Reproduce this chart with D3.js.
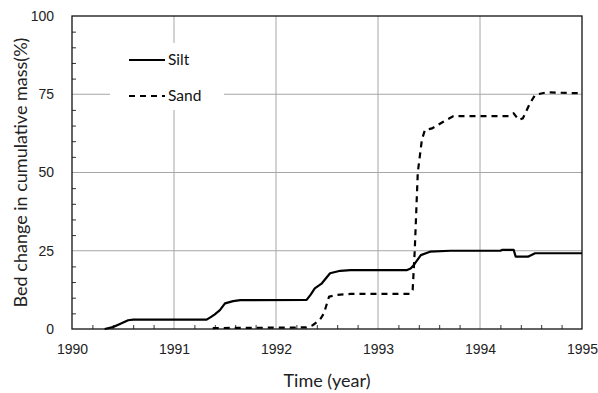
<!DOCTYPE html>
<html>
<head>
    <meta charset="utf-8">
    <style>
        body {
            margin: 0;
            background: #fff;
        }

        svg {
            font-family: Lato, "Open Sans", sans-serif;
        }

        .grid line {
            stroke: #a6a6a6;
            stroke-width: 1;
        }

        .tick text {
            font-size: 14px;
            fill: #222;
        }

        .axis-label {
            font-size: 18px;
            fill: #222;
        }

        .legend text {
            font-size: 15.5px;
            fill: #111;
        }
    </style>
</head>

<body>
    <svg width="598" height="393"></svg>
</body>

<script src="https://d3js.org/d3.v7.min.js"></script>

<script>
    let siltYear = [1990.32, 1990.40, 1990.47, 1990.55, 1990.60, 1991.32, 1991.36, 1991.40, 1991.45,
        1991.50, 1991.58, 1991.65, 1992.30, 1992.34, 1992.38, 1992.45, 1992.53, 1992.63, 1992.73,
        1993.28, 1993.32, 1993.35, 1993.42, 1993.51, 1993.71, 1994.20, 1994.22, 1994.33, 1994.35,
        1994.47, 1994.54, 1995.00]
    let siltVal = [0, 0.6, 1.6, 2.8, 3.0, 3.0, 3.8, 4.7, 6.0,
        8.2, 8.9, 9.2, 9.3, 11, 13, 14.6, 17.8, 18.6, 18.8,
        18.8, 19.3, 20.4, 23.6, 24.7, 25, 25, 25.3, 25.3, 23.1,
        23.1, 24.2, 24.2]

    let sandYear = [1991.38, 1992.30, 1992.36, 1992.43, 1992.47, 1992.50, 1992.52, 1992.60, 1992.73,
        1993.31, 1993.34, 1993.36, 1993.39, 1993.43, 1993.46, 1993.53, 1993.64, 1993.74,
        1994.28, 1994.33, 1994.38, 1994.42, 1994.49, 1994.54, 1994.65, 1995.00]
    let sandVal = [0.3, 0.5, 1.2, 2.9, 5, 8.2, 10.3, 10.9, 11.2,
        11.2, 12.5, 25, 50, 60.4, 63.6, 64.1, 66.2, 68,
        68, 68.9, 66.8, 67.3, 72.1, 74.8, 75.6, 75.3]

    let xTicks = [1990, 1991, 1992, 1993, 1994, 1995]
    let yTicks = [0, 25, 50, 75, 100]
    let seriesNames = ["Silt", "Sand"]

    let margin = { top: 16, right: 16, bottom: 64, left: 72 }
    let width = 598
    let height = 393

    let svg = d3.select("svg")

    let x = d3.scaleLinear()
        .domain([1990, 1995])
        .range([margin.left, width - margin.right])

    let y = d3.scaleLinear()
        .domain([0, 100])
        .range([height - margin.bottom, margin.top])

    // gridlines
    let grid = svg.append("g").attr("class", "grid")
    grid.selectAll(".h")
        .data(yTicks.slice(1, -1))
        .join("line")
        .attr("x1", x(1990)).attr("x2", x(1995))
        .attr("y1", d => y(d)).attr("y2", d => y(d))
    grid.selectAll(".v")
        .data(xTicks.slice(1, -1))
        .join("line")
        .attr("x1", d => x(d)).attr("x2", d => x(d))
        .attr("y1", y(0)).attr("y2", y(100))

    // minor ticks, pointing inward
    let xMinor = d3.range(1990.2, 1995, 0.2).filter(v => Math.abs(v - Math.round(v)) > 0.01)
    let yMinor = d3.range(5, 100, 5).filter(v => v % 25 != 0)

    svg.append("g")
        .attr("transform", `translate(0,${y(0)})`)
        .call(d3.axisTop(x).tickValues(xMinor).tickSize(4).tickFormat(""))
        .call(g => g.select(".domain").remove())
        .call(g => g.selectAll("line").attr("stroke", "#333"))

    svg.append("g")
        .attr("transform", `translate(${x(1990)},0)`)
        .call(d3.axisRight(y).tickValues(yMinor).tickSize(4).tickFormat(""))
        .call(g => g.select(".domain").remove())
        .call(g => g.selectAll("line").attr("stroke", "#333"))

    // tick labels
    svg.append("g")
        .attr("transform", `translate(0,${y(0)})`)
        .call(d3.axisBottom(x).tickValues(xTicks).tickSize(0).tickPadding(15).tickFormat(d3.format("d")))
        .call(g => g.select(".domain").remove())

    svg.append("g")
        .attr("transform", `translate(${x(1990)},0)`)
        .call(d3.axisLeft(y).tickValues(yTicks).tickSize(0).tickPadding(18))
        .call(g => g.select(".domain").remove())

    // legend background hides the gridlines behind it
    svg.append("rect")
        .attr("x", 110).attr("y", 43)
        .attr("width", 114).attr("height", 67)
        .attr("fill", "#fff")

    // frame
    svg.append("rect")
        .attr("x", x(1990)).attr("y", y(100))
        .attr("width", x(1995) - x(1990))
        .attr("height", y(0) - y(100))
        .attr("fill", "none")
        .attr("stroke", "#111")
        .attr("stroke-width", 1.3)

    let line = d3.line()
        .x(d => x(d[0]))
        .y(d => y(d[1]))

    let silt = d3.zip(siltYear, siltVal)
    let sand = d3.zip(sandYear, sandVal)

    svg.append("path")
        .datum(silt)
        .attr("fill", "none")
        .attr("stroke", "#000")
        .attr("stroke-width", 2.2)
        .attr("stroke-linejoin", "round")
        .attr("d", line)

    svg.append("path")
        .datum(sand)
        .attr("fill", "none")
        .attr("stroke", "#000")
        .attr("stroke-width", 2.2)
        .attr("stroke-dasharray", "6,5")
        .attr("d", line)

    // legend
    let legend = svg.append("g").attr("class", "legend")
    legend.selectAll("line")
        .data(seriesNames)
        .join("line")
        .attr("x1", 129).attr("x2", 165)
        .attr("y1", (d, i) => 60 + i * 36)
        .attr("y2", (d, i) => 60 + i * 36)
        .attr("stroke", "#000")
        .attr("stroke-width", 2.2)
        .attr("stroke-dasharray", (d, i) => i == 1 ? "6,5" : null)
    legend.selectAll("text")
        .data(seriesNames)
        .join("text")
        .attr("x", 168)
        .attr("y", (d, i) => 60 + i * 36)
        .attr("dy", "0.35em")
        .text(d => d)

    // axis titles
    svg.append("text")
        .attr("class", "axis-label")
        .attr("x", (x(1990) + x(1995)) / 2)
        .attr("y", 387)
        .attr("text-anchor", "middle")
        .text("Time (year)")

    svg.append("text")
        .attr("class", "axis-label")
        .attr("transform", `translate(27,${(y(0) + y(100)) / 2}) rotate(-90)`)
        .attr("text-anchor", "middle")
        .text("Bed change in cumulative mass(%)")
</script>
</html>
